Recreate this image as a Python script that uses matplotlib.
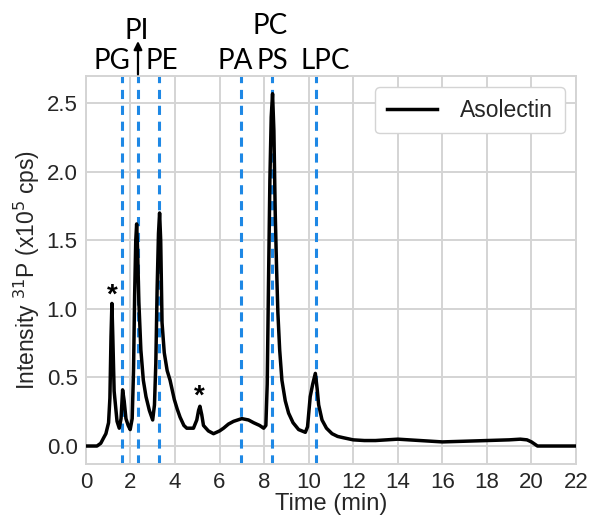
import matplotlib.pyplot as plt
import matplotlib.transforms as mtransforms

# 31P trace (time in min, intensity in 1e5 cps)
time_min = [0, 0.5, 0.67, 0.8, 0.9, 1.02, 1.08, 1.13, 1.17, 1.21, 1.27, 1.4, 1.5, 1.58,
            1.65, 1.72, 1.8, 1.9, 1.99, 2.08, 2.14, 2.19, 2.24, 2.28, 2.32, 2.38, 2.47,
            2.58, 2.7, 2.85, 3.0, 3.08, 3.14, 3.2, 3.26, 3.31, 3.36, 3.42, 3.52, 3.65,
            3.78, 3.97, 4.1, 4.23, 4.4, 4.53, 4.83, 4.98, 5.06, 5.12, 5.2, 5.28, 5.5,
            5.73, 6.0, 6.18, 6.4, 6.63, 7.0, 7.3, 7.53, 7.8, 7.98, 8.08, 8.14, 8.2,
            8.26, 8.32, 8.38, 8.44, 8.5, 8.56, 8.62, 8.7, 8.8, 8.95, 9.1, 9.3, 9.55,
            9.85, 9.95, 10.07, 10.18, 10.3, 10.38, 10.45, 10.6, 10.8, 11.05, 11.3,
            11.57, 12.0, 12.5, 13.0, 13.5, 14.0, 14.5, 15.0, 16.0, 17.0, 18.0, 19.0,
            19.5, 19.8, 20.0, 20.27, 21.0, 22.0]
asolectin = [0.0, 0.0, 0.02, 0.06, 0.09, 0.17, 0.35, 0.8, 1.04, 0.8, 0.4, 0.18, 0.13, 0.2,
             0.41, 0.33, 0.2, 0.15, 0.12, 0.2, 0.55, 1.1, 1.5, 1.62, 1.45, 1.05, 0.7,
             0.48, 0.36, 0.26, 0.19, 0.3, 0.6, 1.15, 1.55, 1.7, 1.5, 0.9, 0.68, 0.55,
             0.48, 0.34, 0.27, 0.21, 0.15, 0.13, 0.13, 0.19, 0.26, 0.29, 0.23, 0.15, 0.11,
             0.09, 0.11, 0.13, 0.16, 0.18, 0.2, 0.19, 0.17, 0.15, 0.13, 0.15, 0.45, 1.21,
             1.94, 2.4, 2.57, 2.3, 1.7, 1.3, 0.97, 0.7, 0.48, 0.33, 0.24, 0.17, 0.12,
             0.10, 0.14, 0.36, 0.45, 0.53, 0.42, 0.3, 0.19, 0.13, 0.09, 0.07,
             0.06, 0.045, 0.04, 0.04, 0.045, 0.05, 0.045, 0.04, 0.03, 0.035, 0.04, 0.045,
             0.05, 0.045, 0.03, 0.0, 0.0, 0.0]

# lipid class retention times (dashed markers)
lipid_times = [1.62, 2.34, 3.28, 6.97, 8.37, 10.35]
lipid_labels = ['PG', 'PI', 'PE', 'PA', 'PS', 'PC', 'LPC']
label_x = [1.17, 2.29, 3.42, 6.7, 8.37, 8.28, 10.75]
label_y = [1.038, 1.115, 1.038, 1.038, 1.038, 1.128, 1.038]

star_x = [1.17, 5.1]
star_y = [1.1, 0.36]

plt.rcParams['font.family'] = ['Liberation Sans', 'DejaVu Sans']

fig = plt.figure(figsize=(5.92, 5.20), dpi=100)
ax = fig.add_axes([0.145, 0.108, 0.828, 0.746])

ax.plot(time_min, asolectin, color='black', lw=2.5, label='Asolectin', zorder=3,
        solid_joinstyle='round')
for t in lipid_times:
    ax.axvline(t, color='#1E88E5', lw=2.2, ls=(0, (3, 2.2)), zorder=2)

ax.set_xlim(0, 22)
ax.set_ylim(-0.13, 2.7)
ax.set_xticks(range(0, 23, 2))
ax.set_yticks([0.0, 0.5, 1.0, 1.5, 2.0, 2.5])
ax.set_yticklabels(['0.0', '0.5', '1.0', '1.5', '2.0', '2.5'])
ax.tick_params(labelsize=16, length=0, colors='#262626', pad=6)
ax.grid(True, color='#d4d4d4', lw=1.4)
ax.set_axisbelow(True)
for s in ax.spines.values():
    s.set_color('#d4d4d4')
    s.set_linewidth(1.4)

ax.set_xlabel('Time (min)', fontsize=17, color='#262626', labelpad=0)
ax.set_ylabel('Intensity $^{31}$P (x10$^{5}$ cps)', fontsize=16.5, color='#262626',
              labelpad=3)

trans = mtransforms.blended_transform_factory(ax.transData, ax.transAxes)
for lab, x, y in zip(lipid_labels, label_x, label_y):
    ax.text(x, y, lab, transform=trans, ha='center', va='center', fontsize=20,
            family='Lato', color='black', clip_on=False)
ax.annotate('', xy=(lipid_times[1], 1.09), xytext=(lipid_times[1], 1.004),
            xycoords=trans, textcoords=trans,
            arrowprops=dict(arrowstyle='-|>', color='black', lw=1.6, mutation_scale=12,
                            shrinkA=0, shrinkB=0))

for x, y in zip(star_x, star_y):
    ax.text(x, y, '*', ha='center', va='center', fontsize=20, fontweight='bold')

leg = ax.legend(loc='upper right', fontsize=16.5, handlelength=2.2, handletextpad=1.0,
                borderpad=0.5, fancybox=True, framealpha=1, edgecolor='#d4d4d4')
for t in leg.get_texts():
    t.set_color('#262626')

fig.savefig('out.png', dpi=100)
